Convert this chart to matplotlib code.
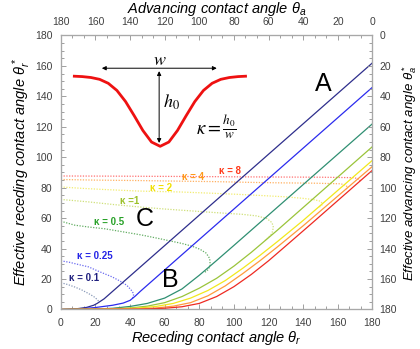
import matplotlib
matplotlib.use("Agg")
import matplotlib.pyplot as plt
from matplotlib.ticker import MultipleLocator

plt.rcParams['font.family'] = ['Liberation Sans', 'DejaVu Sans']
plt.rcParams['mathtext.fontset'] = 'custom'
plt.rcParams['mathtext.it'] = 'Liberation Sans:italic'
plt.rcParams['mathtext.rm'] = 'Liberation Sans'
plt.rcParams['mathtext.bf'] = 'Liberation Sans:bold'

# ---------------- data ----------------
kappas = ["0.1", "0.25", "0.5", "1", "2", "4", "8"]

# solid branches: effective receding angle vs receding angle
k01_x = [0, 5, 10, 15, 19, 21, 23, 25, 180]
k01_y = [0, 0.2, 0.6, 1.4, 2.8, 4.0, 5.5, 7.0, 162]
k025_x = [0, 10, 20, 30, 36, 40, 43, 46, 50, 180]
k025_y = [0, 0.3, 1.3, 2.8, 4.2, 6.0, 8.8, 12.0, 16.0, 146]
k05_x = [0, 20, 30, 40, 50, 60, 70, 80, 90, 100, 180]
k05_y = [0, 0.3, 0.8, 2.0, 4.0, 7.5, 13.5, 22.5, 32.2, 42.1, 122]
k1_x = [0, 25, 40, 50, 60, 70, 80, 90, 100, 110, 125, 180]
k1_y = [0, 0.3, 1.0, 2.2, 4.5, 8.5, 14.0, 20.5, 28.5, 37.5, 52.0, 107]
k2_x = [0, 30, 45, 55, 65, 75, 85, 95, 105, 115, 125, 140, 180]
k2_y = [0, 0.3, 1.0, 2.0, 4.0, 7.5, 12.5, 19.0, 27.0, 35.5, 44.5, 58.5, 98]
k4_x = [0, 40, 55, 65, 75, 85, 95, 105, 115, 125, 140, 180]
k4_y = [0, 0.3, 1.0, 2.2, 4.5, 9.0, 15.5, 23.5, 32.0, 41.0, 55.0, 94]
k8_x = [0, 45, 60, 70, 80, 90, 100, 110, 120, 130, 145, 180]
k8_y = [0, 0.2, 0.8, 1.8, 4.0, 8.5, 15.0, 23.0, 32.0, 41.8, 56.6, 91.5]

# dotted branches
d01_x = [0, 4, 8, 12, 16, 19, 21, 22, 21.8]
d01_y = [17.6, 16.4, 14.8, 12.9, 10.5, 8.5, 6.6, 5.2, 4.3]
d025_x = [0, 5, 10, 16, 22, 29.5, 34, 38, 40.5, 42, 42, 40.8]
d025_y = [32, 31, 29.6, 28, 25, 21.5, 18.8, 16, 13, 10.5, 8.3, 6.8]
d05_x = [0, 8, 16, 25.6, 36, 46.8, 58, 69.9, 76, 80.5, 84, 86, 86.3, 85.3, 84, 82.5]
d05_y = [58, 55.4, 54.2, 53, 51, 48.9, 46.3, 43.4, 41.5, 39.5, 37, 33.5, 29.2, 26.5, 25, 24.2]
d1_x = [0, 15, 30, 45, 60, 75, 90, 105, 113, 119, 122, 122.8, 122, 120, 118]
d1_y = [72.3, 70.8, 69, 67.4, 66, 64.8, 63.6, 62.5, 61.5, 59.8, 57, 54, 50, 47.5, 45.5]
d2_x = [0, 12, 25.6, 45, 68.9, 89, 105, 117, 130, 140, 146, 149.8, 151, 150.7, 148.8]
d2_y = [80.5, 79.6, 78.8, 77.8, 77.2, 76.3, 75.5, 74.8, 74, 73, 72.2, 71.2, 69.8, 68.3, 66.8]
d4_x = [0, 20, 45, 68.9, 89, 110, 126.7, 145, 161.4, 164.5, 165.5, 165, 164.3]
d4_y = [85.4, 85, 84.7, 84.3, 84, 83.5, 83.2, 83, 82.6, 81.8, 80.5, 79.3, 78.4]
d8_x = [0, 30, 68.9, 110, 150, 169, 171.5, 172.9, 172.5]
d8_y = [87.7, 87.6, 87.4, 87.1, 86.9, 86.6, 86, 85, 84.2]

solid_x = [k01_x, k025_x, k05_x, k1_x, k2_x, k4_x, k8_x]
solid_y = [k01_y, k025_y, k05_y, k1_y, k2_y, k4_y, k8_y]
dot_x = [d01_x, d025_x, d05_x, d1_x, d2_x, d4_x, d8_x]
dot_y = [d01_y, d025_y, d05_y, d1_y, d2_y, d4_y, d8_y]

# schematic groove profile in the inset
groove_x = [7, 12.4, 17.4, 22.4, 27.4, 32.4, 37.4, 42.4, 47.4, 52.4, 57.4,
            62.4, 67.4, 72.4, 77.4, 82.4, 87.4, 92.4, 97.4, 102.4, 107.5]
groove_y = [153.3, 153.0, 152.4, 151.2, 148.6, 143.9, 136.6, 127.3, 117.6, 110.0, 107.2,
            110.0, 117.6, 127.3, 136.6, 143.9, 148.6, 151.2, 152.4, 153.0, 153.3]

solid_colors = ["#2e2e8c", "#2b2bee", "#2f8f72", "#9ac43a", "#f2e81c", "#ff9a3c", "#ee2a22"]
dot_colors = ["#8a9ab8", "#6b6bf0", "#63ad63", "#cfe07a", "#f2ec70", "#ffb060", "#ff7070"]
label_colors = ["#20207e", "#2424e6", "#27a127", "#9cc12a", "#f0e000", "#ff9a1a", "#ff3a1a"]
label_text = ["κ = 0.1", "κ = 0.25", "κ = 0.5", "κ =1", "κ = 2", "κ = 4", "κ = 8"]
label_pos = [(13.6, 20.5), (19.4, 35.1), (27.8, 57.2), (39.9, 71.3),
             (57.8, 80.1), (76.6, 87.1), (97.9, 90.8)]

ticks = [0, 20, 40, 60, 80, 100, 120, 140, 160, 180]

# ---------------- figure ----------------
fig = plt.figure(figsize=(4.2, 3.49), dpi=100)
ax = fig.add_axes([0.1448, 0.1132, 0.7419, 0.7851])

for xs, ys, c in zip(dot_x, dot_y, dot_colors):
    ax.plot(xs, ys, color=c, lw=0.9, linestyle=(0, (1, 1.2)))
for xs, ys, c in zip(solid_x, solid_y, solid_colors):
    ax.plot(xs, ys, color=c, lw=0.9)

for t, (x, y), c in zip(label_text, label_pos, label_colors):
    ax.text(x, y, t, color=c, fontsize=7, fontweight='bold', ha='center', va='center')

for t, (x, y) in zip(["A", "B", "C"], [(151.8, 148.2), (63, 19.5), (48.7, 59.3)]):
    ax.text(x, y, t, fontsize=18, ha='center', va='center', color='black')

# inset drawing
ax.plot(groove_x, groove_y, color='#ee1111', lw=2.0, solid_capstyle='butt')
ax.annotate('', xy=(23.7, 158.5), xytext=(90.1, 158.5),
            arrowprops=dict(arrowstyle='<|-|>', lw=0.7, color='black',
                            mutation_scale=6, shrinkA=0, shrinkB=0))
ax.annotate('', xy=(56.8, 156.6), xytext=(56.8, 109.4),
            arrowprops=dict(arrowstyle='<|-|>', lw=0.7, color='black',
                            mutation_scale=6, shrinkA=0, shrinkB=0))
ax.text(57.4, 163.3, '$w$', fontsize=13, ha='center', va='center', math_fontfamily='stix')
ax.text(64.0, 136.3, '$h_0$', fontsize=13, ha='center', va='center', math_fontfamily='stix')
ax.text(90.0, 120.0, r'$\kappa = \frac{h_0}{w}$', fontsize=13.5, ha='center', va='center',
        math_fontfamily='stix')

ax.set_xlim(0, 180)
ax.set_ylim(0, 180)
ax.set_xticks(ticks)
ax.set_yticks(ticks)
ax.xaxis.set_minor_locator(MultipleLocator(20 / 3))
ax.yaxis.set_minor_locator(MultipleLocator(5))

axt = ax.twiny()
axt.set_xlim(180, 0)
axt.set_xticks(ticks)
axt.xaxis.set_minor_locator(MultipleLocator(20 / 3))
axr = ax.twinx()
axr.set_ylim(180, 0)
axr.set_yticks(ticks)
axr.yaxis.set_minor_locator(MultipleLocator(5))

for a in (ax, axt, axr):
    for s in a.spines.values():
        s.set_color('#a8a8a8')
        s.set_linewidth(0.8)
    a.tick_params(which='both', direction='in', color='#909090', labelcolor='#404040',
                  labelsize=7.5, width=0.6)
    a.tick_params(which='major', length=3.5)
    a.tick_params(which='minor', length=2)
ax.tick_params(axis='x', pad=6)
ax.tick_params(axis='y', pad=6)
axt.tick_params(axis='x', pad=6)
axr.tick_params(axis='y', pad=5)

ax.set_xlabel(r'$Receding\ contact\ angle\ \theta_r$', fontsize=10.5, labelpad=1)
axt.set_xlabel(r'$Advancing\ contact\ angle\ \theta_a$', fontsize=10.5, labelpad=3)
fig.text(22 / 420, 0.5057, r'$Effective\ receding\ contact\ angle\ \theta_r^*$',
         fontsize=10.5, rotation=90, ha='center', va='center')
fig.text(410 / 420, 0.5057, r'$Effective\ advancing\ contact\ angle\ \theta_a^*$',
         fontsize=9.5, rotation=90, ha='center', va='center')

fig.savefig('out.png', dpi=100)
